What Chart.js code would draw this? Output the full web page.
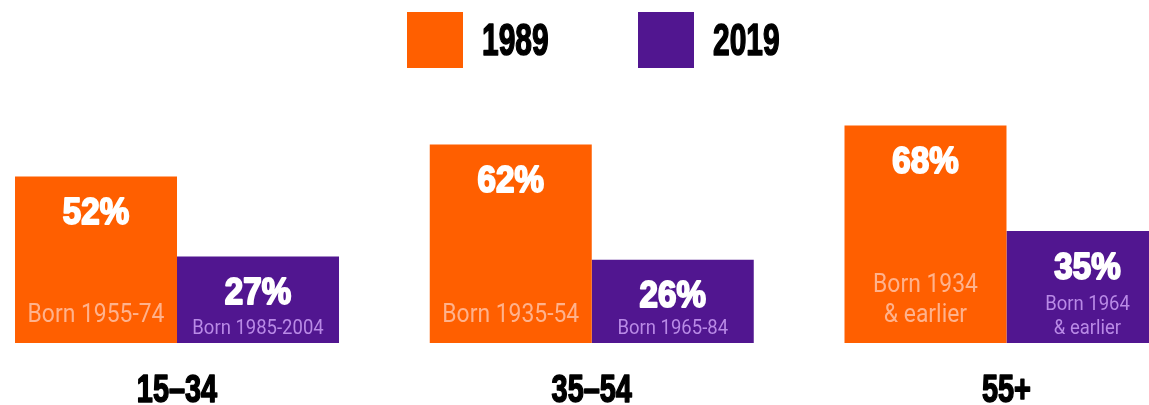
<!DOCTYPE html>
<html lang="en">
<head>
    <meta charset="UTF-8">
    <title>1989 vs 2019 by age group</title>
    <script src="https://cdn.jsdelivr.net/npm/chart.js"></script>
    <style>
        html, body { margin: 0; padding: 0; background: #fff; }
        #chart { display: block; }
    </style>
</head>
<body>
    <canvas id="chart" width="1149" height="405"></canvas>

    <script>
        // Data
        const ageGroups = ['15–34', '35–54', '55+'];
        const years = ['1989', '2019'];
        const values1989 = [52, 62, 68];
        const values2019 = [27, 26, 35];
        const born1989 = [['Born 1955-74'], ['Born 1935-54'], ['Born 1934', '& earlier']];
        const born2019 = [['Born 1985-2004'], ['Born 1965-84'], ['Born 1964', '& earlier']];

        const orange = '#ff5f00';
        const purple = '#511690';
        const heavyFont = '"Liberation Sans", Arial, sans-serif';

        // Label styles per dataset (orange, purple)
        const subStyles = [
            { color: '#ffb28c', size: 26, gap: 30, bottom: 21 },
            { color: '#b98ae6', size: 21, gap: 24, bottom: 9.5 }
        ];

        // heavy condensed text: squeeze Liberation Sans Bold and thicken with a stroke
        function heavyText(ctx, text, x, y, size, squeeze, color, weight) {
            ctx.save();
            ctx.translate(x, y);
            ctx.scale(squeeze, 1);
            ctx.font = 'bold ' + size + 'px ' + heavyFont;
            ctx.fillStyle = color;
            ctx.strokeStyle = color;
            ctx.lineWidth = weight;
            ctx.lineJoin = 'round';
            ctx.fillText(text, 0, 0);
            ctx.strokeText(text, 0, 0);
            ctx.restore();
        }

        // Percent + "Born ..." text inside the bars
        const barLabels = {
            id: 'barLabels',
            afterDatasetsDraw(chart) {
                const ctx = chart.ctx;
                chart.data.datasets.forEach((ds, d) => {
                    const meta = chart.getDatasetMeta(d);
                    const st = subStyles[d];
                    meta.data.forEach((bar, i) => {
                        const { x, y, base } = bar.getProps(['x', 'y', 'base'], true);
                        ctx.save();
                        ctx.textAlign = 'center';
                        ctx.textBaseline = 'alphabetic';
                        heavyText(ctx, ds.data[i].y + '%', x, y + 47.5, 36, 0.92, '#fff', 2);

                        ctx.font = '400 ' + st.size + 'px Roboto, sans-serif';
                        ctx.fillStyle = st.color;
                        const lines = ds.born[i];
                        lines.forEach((line, k) => {
                            const ly = base - st.bottom - (lines.length - 1 - k) * st.gap;
                            ctx.save();
                            ctx.translate(x, ly);
                            ctx.scale(0.88, 1);
                            ctx.fillText(line, 0, 0);
                            ctx.restore();
                        });
                        ctx.restore();
                    });
                });
            }
        };

        // Category names under each group, placed by the x scale
        const groupNames = {
            id: 'groupNames',
            afterDraw(chart) {
                const ctx = chart.ctx;
                const xs = chart.scales.x;
                ctx.save();
                ctx.textAlign = 'center';
                ctx.textBaseline = 'alphabetic';
                xs.ticks.forEach((t) => {
                    heavyText(ctx, ageGroups[t.value], xs.getPixelForValue(t.value), 402, 38, 0.76, '#000', 1.6);
                });
                ctx.restore();
            }
        };

        // Big square legend at the top
        const squareLegend = {
            id: 'squareLegend',
            afterDraw(chart) {
                const ctx = chart.ctx;
                const lefts = [407, 638];
                chart.data.datasets.forEach((ds, i) => {
                    ctx.save();
                    ctx.fillStyle = ds.backgroundColor;
                    ctx.fillRect(lefts[i], 12, 56, 56);
                    ctx.textAlign = 'left';
                    ctx.textBaseline = 'alphabetic';
                    heavyText(ctx, ds.label, lefts[i] + 75, 55, 44, 0.68, '#000', 1.6);
                    ctx.restore();
                });
            }
        };

        new Chart(document.getElementById('chart'), {
            type: 'bar',
            data: {
                datasets: [
                    {
                        label: years[0],
                        data: values1989.map((v, i) => ({ x: i, y: v })),
                        born: born1989,
                        backgroundColor: orange
                    },
                    {
                        label: years[1],
                        data: values2019.map((v, i) => ({ x: i, y: v })),
                        born: born2019,
                        backgroundColor: purple
                    }
                ]
            },
            options: {
                responsive: false,
                animation: false,
                devicePixelRatio: 1,
                layout: { padding: { top: 100, left: 0, right: 0, bottom: 0 } },
                categoryPercentage: 0.7812,
                barPercentage: 1.0,
                plugins: {
                    legend: { display: false },
                    tooltip: { enabled: false }
                },
                scales: {
                    x: {
                        type: 'linear',
                        offset: false,
                        bounds: 'data',
                        min: -0.4268,
                        max: 2.3436,
                        grid: { display: false, drawTicks: false, offset: false },
                        border: { display: false },
                        afterBuildTicks: (scale) => {
                            scale.ticks = ageGroups.map((_, i) => ({ value: i }));
                        },
                        ticks: { display: false }
                    },
                    y: {
                        display: false,
                        min: -19.375,
                        max: 75.9375
                    }
                }
            },
            plugins: [barLabels, groupNames, squareLegend]
        });
    </script>
</body>
</html>
